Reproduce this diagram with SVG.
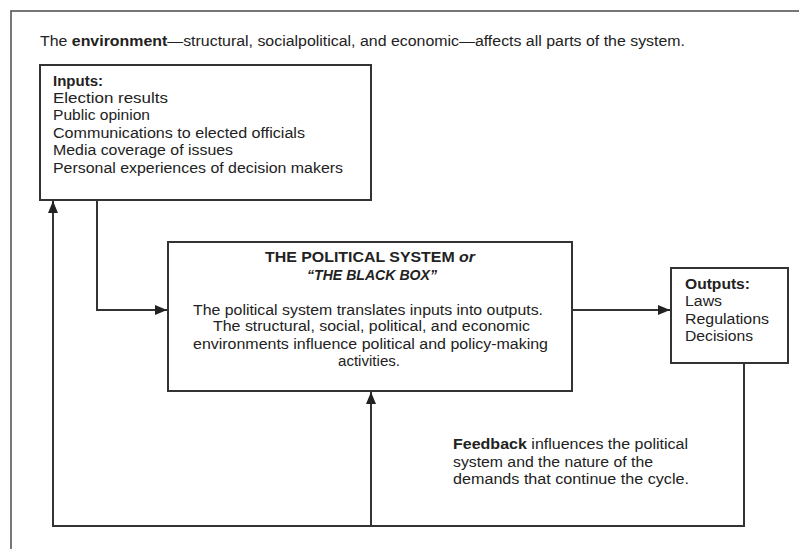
<svg xmlns="http://www.w3.org/2000/svg" width="799" height="549" viewBox="0 0 799 549">
<style>
text{font-family:"Liberation Sans",Arial,sans-serif;font-size:14px;fill:#222}
.b{font-weight:bold}
.bi{font-weight:bold;font-style:italic}
.box{fill:#fff;stroke:#333;stroke-width:2}
.frame{fill:none;stroke:#555;stroke-width:1.6}
.wire{fill:none;stroke:#333;stroke-width:2}
</style>
<defs>
<marker id="ah" viewBox="0 0 12 10" refX="12" refY="5" markerWidth="12" markerHeight="10" markerUnits="userSpaceOnUse" orient="auto">
<path d="M0,0 L12,5 L0,10 z" fill="#222"/>
</marker>
</defs>
<rect fill="#fff" x="0" y="0" width="799" height="549"/>
<rect class="frame" x="11" y="11" width="800" height="560"/>
<g id="environment">
<text x="40" y="46" textLength="645" lengthAdjust="spacingAndGlyphs">The <tspan class="b">environment</tspan>—structural, socialpolitical, and economic—affects all parts of the system.</text>
</g>
<g id="connectors">
<path class="wire" d="M97,200 V310 H167" marker-end="url(#ah)"/>
<path class="wire" d="M572,310 H670" marker-end="url(#ah)"/>
<path class="wire" d="M744,363 V526 H53 V201" marker-end="url(#ah)"/>
<path class="wire" d="M371,526 V392" marker-end="url(#ah)"/>
</g>
<g id="inputs">
<rect class="box" x="40" y="65" width="331" height="135"/>
<text class="b" x="53" y="86" textLength="50" lengthAdjust="spacingAndGlyphs">Inputs:</text>
<text x="53" y="103" textLength="115" lengthAdjust="spacingAndGlyphs">Election results</text>
<text x="53" y="120" textLength="97" lengthAdjust="spacingAndGlyphs">Public opinion</text>
<text x="53" y="137.5" textLength="252" lengthAdjust="spacingAndGlyphs">Communications to elected officials</text>
<text x="53" y="155" textLength="180" lengthAdjust="spacingAndGlyphs">Media coverage of issues</text>
<text x="53" y="172.5" textLength="290" lengthAdjust="spacingAndGlyphs">Personal experiences of decision makers</text>
</g>
<g id="political-system">
<rect class="box" x="168" y="242" width="404" height="149"/>
<text class="b" x="370" y="262" text-anchor="middle" textLength="210" lengthAdjust="spacingAndGlyphs">THE POLITICAL SYSTEM <tspan class="bi">or</tspan></text>
<text class="bi" x="372" y="279.5" text-anchor="middle" textLength="130" lengthAdjust="spacingAndGlyphs">“THE BLACK BOX”</text>
<text x="368" y="314.5" text-anchor="middle" textLength="350" lengthAdjust="spacingAndGlyphs">The political system translates inputs into outputs.</text>
<text x="371.5" y="331" text-anchor="middle" textLength="317" lengthAdjust="spacingAndGlyphs">The structural, social, political, and economic</text>
<text x="370.5" y="348.5" text-anchor="middle" textLength="355" lengthAdjust="spacingAndGlyphs">environments influence political and policy-making</text>
<text x="369" y="366" text-anchor="middle" textLength="62" lengthAdjust="spacingAndGlyphs">activities.</text>
</g>
<g id="outputs">
<rect class="box" x="671" y="268" width="117" height="95"/>
<text class="b" x="685" y="288.5" textLength="65" lengthAdjust="spacingAndGlyphs">Outputs:</text>
<text x="685" y="306" textLength="37" lengthAdjust="spacingAndGlyphs">Laws</text>
<text x="685" y="323.5" textLength="84" lengthAdjust="spacingAndGlyphs">Regulations</text>
<text x="685" y="341" textLength="68" lengthAdjust="spacingAndGlyphs">Decisions</text>
</g>
<g id="feedback">
<text x="453" y="449" textLength="235" lengthAdjust="spacingAndGlyphs"><tspan class="b">Feedback</tspan> influences the political</text>
<text x="453" y="466.5" textLength="200" lengthAdjust="spacingAndGlyphs">system and the nature of the</text>
<text x="453" y="484" textLength="236" lengthAdjust="spacingAndGlyphs">demands that continue the cycle.</text>
</g>
</svg>
